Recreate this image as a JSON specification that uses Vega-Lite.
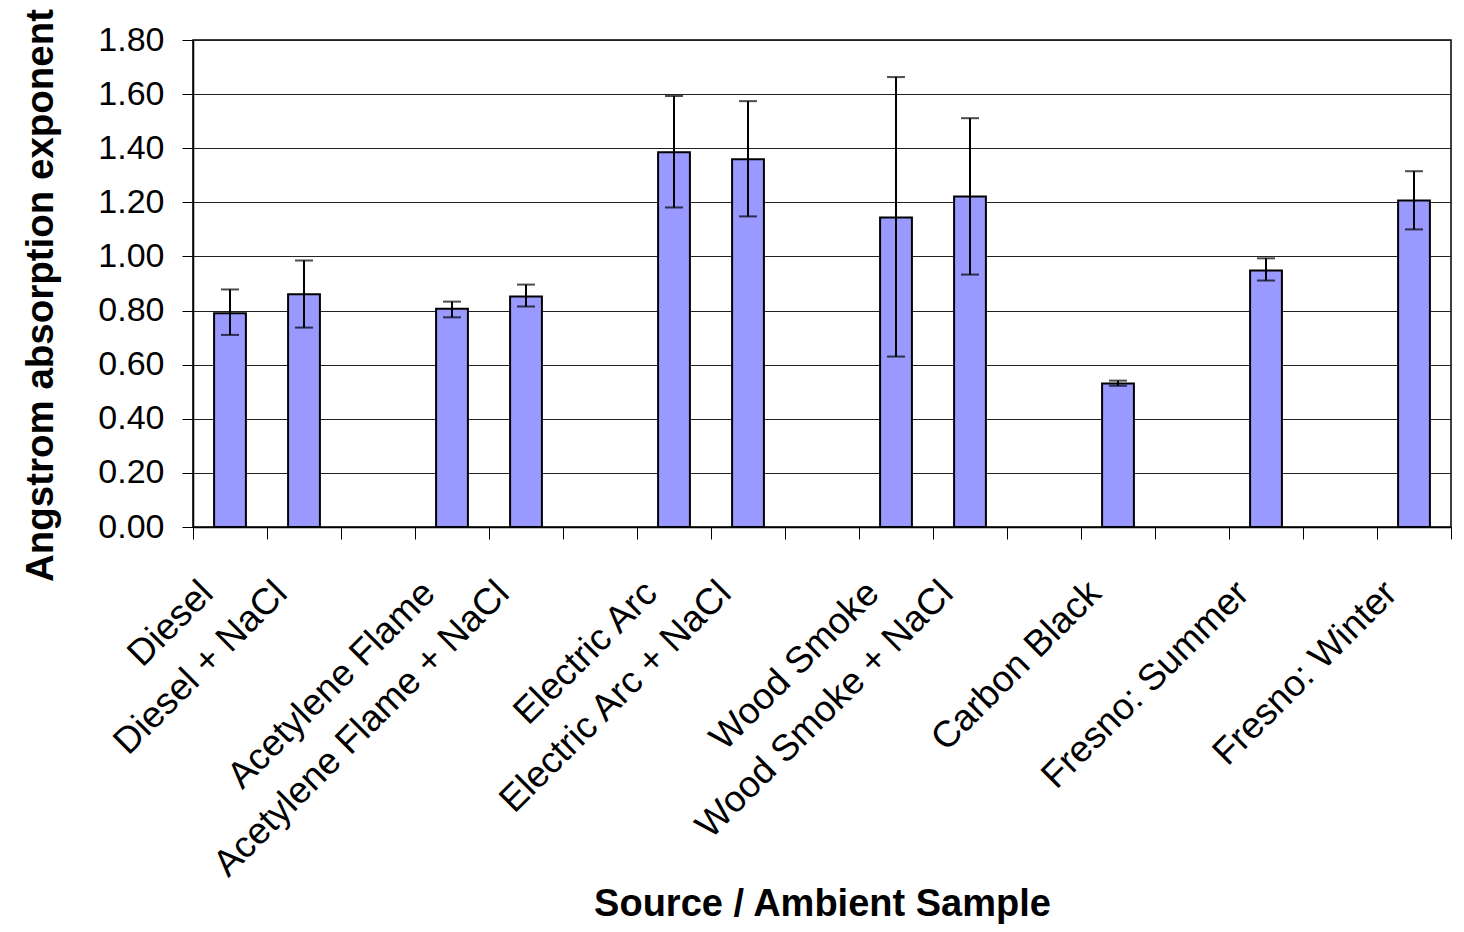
{
  "$schema": "https://vega.github.io/schema/vega-lite/v6.json",
  "width": 1258,
  "height": 487,
  "autosize": {"type": "none"},
  "padding": {"left": 193, "top": 40, "right": 13, "bottom": 405},
  "background": "white",
  "config": {
    "font": "Liberation Sans",
    "view": {"stroke": "black", "strokeWidth": 1.5}
  },
  "data": {
    "values": [
      {"sample": "Diesel", "value": 0.79, "low": 0.71, "high": 0.878},
      {"sample": "Diesel + NaCl", "value": 0.86, "low": 0.737, "high": 0.985},
      {"sample": "Acetylene Flame", "value": 0.807, "low": 0.775, "high": 0.833},
      {"sample": "Acetylene Flame + NaCl", "value": 0.852, "low": 0.815, "high": 0.896},
      {"sample": "Electric Arc", "value": 1.385, "low": 1.181, "high": 1.593},
      {"sample": "Electric Arc + NaCl", "value": 1.359, "low": 1.148, "high": 1.574},
      {"sample": "Wood Smoke", "value": 1.144, "low": 0.63, "high": 1.663},
      {"sample": "Wood Smoke + NaCl", "value": 1.222, "low": 0.933, "high": 1.511},
      {"sample": "Carbon Black", "value": 0.53, "low": 0.522, "high": 0.541},
      {"sample": "Fresno: Summer", "value": 0.948, "low": 0.911, "high": 0.993},
      {"sample": "Fresno: Winter", "value": 1.207, "low": 1.1, "high": 1.315}
    ]
  },
  "encoding": {
    "x": {
      "field": "sample",
      "type": "nominal",
      "sort": null,
      "scale": {
        "domain": ["Diesel", "Diesel + NaCl", "gap1", "Acetylene Flame", "Acetylene Flame + NaCl", "gap2", "Electric Arc", "Electric Arc + NaCl", "gap3", "Wood Smoke", "Wood Smoke + NaCl", "gap4", "Carbon Black", "gap5", "Fresno: Summer", "gap6", "Fresno: Winter"],
        "paddingInner": 0,
        "paddingOuter": 0
      },
      "axis": {
        "labelExpr": "indexof(datum.label, 'gap') == 0 ? '' : datum.label",
        "labelAngle": -45,
        "labelAlign": "right",
        "labelBaseline": "alphabetic",
        "labelFontSize": 37,
        "labelColor": "black",
        "labelPadding": 56,
        "labelOffset": -15,
        "labelLimit": 0,
        "labelOverlap": false,
        "labelBound": false,
        "tickSize": 12,
        "tickColor": "black",
        "tickWidth": 1,
        "bandPosition": 1,
        "tickExtra": true,
        "grid": false,
        "domainColor": "black",
        "domainWidth": 1.5,
        "title": "Source / Ambient Sample",
        "titleFontSize": 38,
        "titleFontWeight": "bold",
        "titleColor": "black",
        "titleX": 629,
        "titleY": 388,
        "titleAlign": "center",
        "titleBaseline": "alphabetic"
      }
    }
  },
  "layer": [
    {
      "mark": {"type": "bar", "width": {"band": 0.43}, "fill": "#9999FF", "stroke": "black", "strokeWidth": 2},
      "encoding": {
        "y": {
          "field": "value",
          "type": "quantitative",
          "scale": {"domain": [0, 1.8], "nice": false, "zero": true},
          "axis": {
            "values": [0, 0.2, 0.4, 0.6, 0.8, 1.0, 1.2, 1.4, 1.6, 1.8],
            "format": ".2f",
            "labelFontSize": 34,
            "labelColor": "black",
            "labelPadding": 18,
            "tickSize": 11,
            "tickColor": "black",
            "tickWidth": 1,
            "grid": true,
            "gridColor": "#222222",
            "gridWidth": 1,
            "domainColor": "black",
            "domainWidth": 1.5,
            "title": "Angstrom absorption exponent",
            "titleFontSize": 38.5,
            "titleFontWeight": "bold",
            "titleColor": "black",
            "titleAngle": -90,
            "titleX": -141,
            "titleY": 255,
            "titleAlign": "center",
            "titleBaseline": "alphabetic"
          }
        }
      }
    },
    {
      "mark": {"type": "rule", "color": "black", "strokeWidth": 2},
      "encoding": {
        "y": {"field": "low", "type": "quantitative"},
        "y2": {"field": "high"}
      }
    },
    {
      "mark": {"type": "tick", "color": "black", "thickness": 2, "size": 18},
      "encoding": {"y": {"field": "low", "type": "quantitative"}}
    },
    {
      "mark": {"type": "tick", "color": "black", "thickness": 2, "size": 18},
      "encoding": {"y": {"field": "high", "type": "quantitative"}}
    }
  ]
}
